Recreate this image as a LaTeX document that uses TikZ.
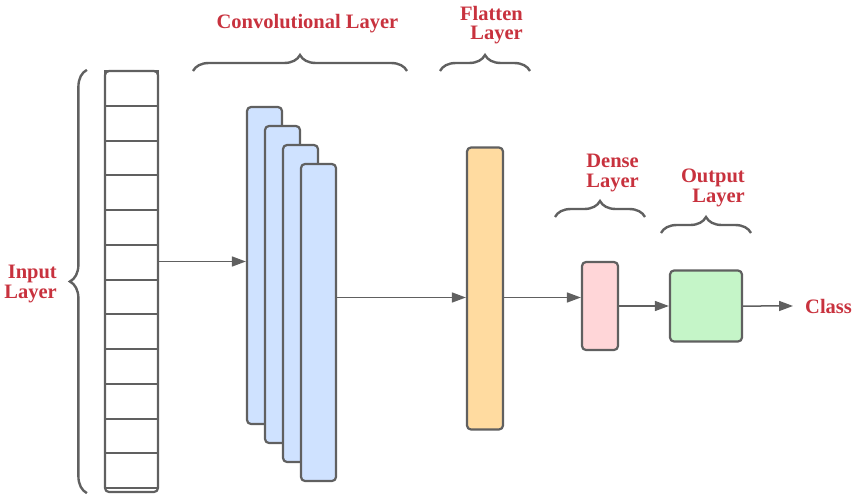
\documentclass[tikz,border=0pt]{standalone}
\usepackage{fontspec}
\setmainfont{Liberation Serif}
\usetikzlibrary{positioning,arrows.meta,decorations.pathreplacing}

\definecolor{linegray}{HTML}{606060}
\definecolor{labelred}{HTML}{C8323E}
\definecolor{convblue}{HTML}{CFE2FF}
\definecolor{flatorange}{HTML}{FFDBA0}
\definecolor{densepink}{HTML}{FFD6D8}
\definecolor{outgreen}{HTML}{C5F5C8}

\begin{document}
\begin{tikzpicture}[x=1pt,y=-1pt,node distance=34.75pt,on grid,
	layer/.style={draw=linegray,line width=2.2pt,rounded corners=4pt,inner sep=0pt},
	cell/.style={draw=linegray,line width=2pt,minimum width=53pt,minimum height=34.75pt,inner sep=0pt},
	conv/.style={layer,fill=convblue,minimum width=35pt,minimum height=317pt},
	lbl/.style={text=labelred,font=\bfseries\fontsize{20.5}{19.5}\selectfont,align=right,inner sep=0pt},
	arr/.style={draw=linegray,line width=1.5pt,-{Triangle[length=14pt,width=10pt]}},
	brc/.style={draw=linegray,line width=2.4pt,decorate,decoration={brace,amplitude=16pt}}]
	\useasboundingbox (0,0) rectangle (857,498);
	% input layer
	\node[cell] (i1) at (131.5,88.4) {};
	\node[cell] (i2) [below=of i1] {};
	\node[cell] (i3) [below=of i2] {};
	\node[cell] (i4) [below=of i3] {};
	\node[cell] (i5) [below=of i4] {};
	\node[cell] (i6) [below=of i5] {};
	\node[cell] (i7) [below=of i6] {};
	\node[cell] (i8) [below=of i7] {};
	\node[cell] (i9) [below=of i8] {};
	\node[cell] (i10) [below=of i9] {};
	\node[cell] (i11) [below=of i10] {};
	\node[cell] (i12) [below=of i11] {};
	\node[layer,minimum width=53pt,minimum height=421pt] (inp) at (131.5,281.5) {};
	% convolutional stack
	\node[conv] (c1) at (264.5,265.5) {};
	\node[conv] (c2) [below right=19pt and 18pt of c1] {};
	\node[conv] (c3) [below right=19pt and 18pt of c2] {};
	\node[conv] (c4) [below right=19pt and 18pt of c3] {};
	% flatten, dense, output
	\node[layer,fill=flatorange,minimum width=36pt,minimum height=282pt] (flat) at (485,288.5) {};
	\node[layer,fill=densepink,minimum width=36pt,minimum height=88pt] (dense) at (600,306) {};
	\node[layer,fill=outgreen,minimum width=72pt,minimum height=71pt] (out) [right=106pt of dense] {};
	\node[lbl,anchor=base west] (cls) at (805,313) {Class};
	% labels
	\node[lbl,anchor=north east] (inlbl) at (57,265) {Input\\Layer};
	\node[lbl,anchor=base] (convlbl) at (307.5,28.5) {Convolutional Layer};
	\node[lbl,anchor=north east] (flatlbl) at (523,6) {Flatten\\Layer};
	\node[lbl,anchor=north east] (denselbl) at (639,154) {Dense\\Layer};
	\node[lbl,anchor=north east] (outlbl) at (745,169) {Output\\Layer};
	% braces
	\draw[brc,decoration={amplitude=17pt}] ([xshift=-17pt]inp.south west) -- ([xshift=-17pt]inp.north west);
	\draw[brc] (193,71) -- (407,71);
	\draw[brc] (440,71) -- (530,71);
	\draw[brc] (555,217) -- (645,217);
	\draw[brc] (661,233) -- (751,233);
	% connectors
	\coordinate (c1in) at ([yshift=4pt]c1.west);
	\coordinate (flin) at ([yshift=-9pt]flat.west);
	\draw[arr] (inp.east |- c1in) -- (c1in);
	\draw[arr] (c4.east |- flin) -- (flin);
	\draw[arr] (flat.east |- flin) -- (dense.west |- flin);
	\draw[arr] (dense.east) -- (out.west);
	\draw[arr] (out.east) -- ([xshift=-12pt]cls.west);
\end{tikzpicture}
\end{document}
